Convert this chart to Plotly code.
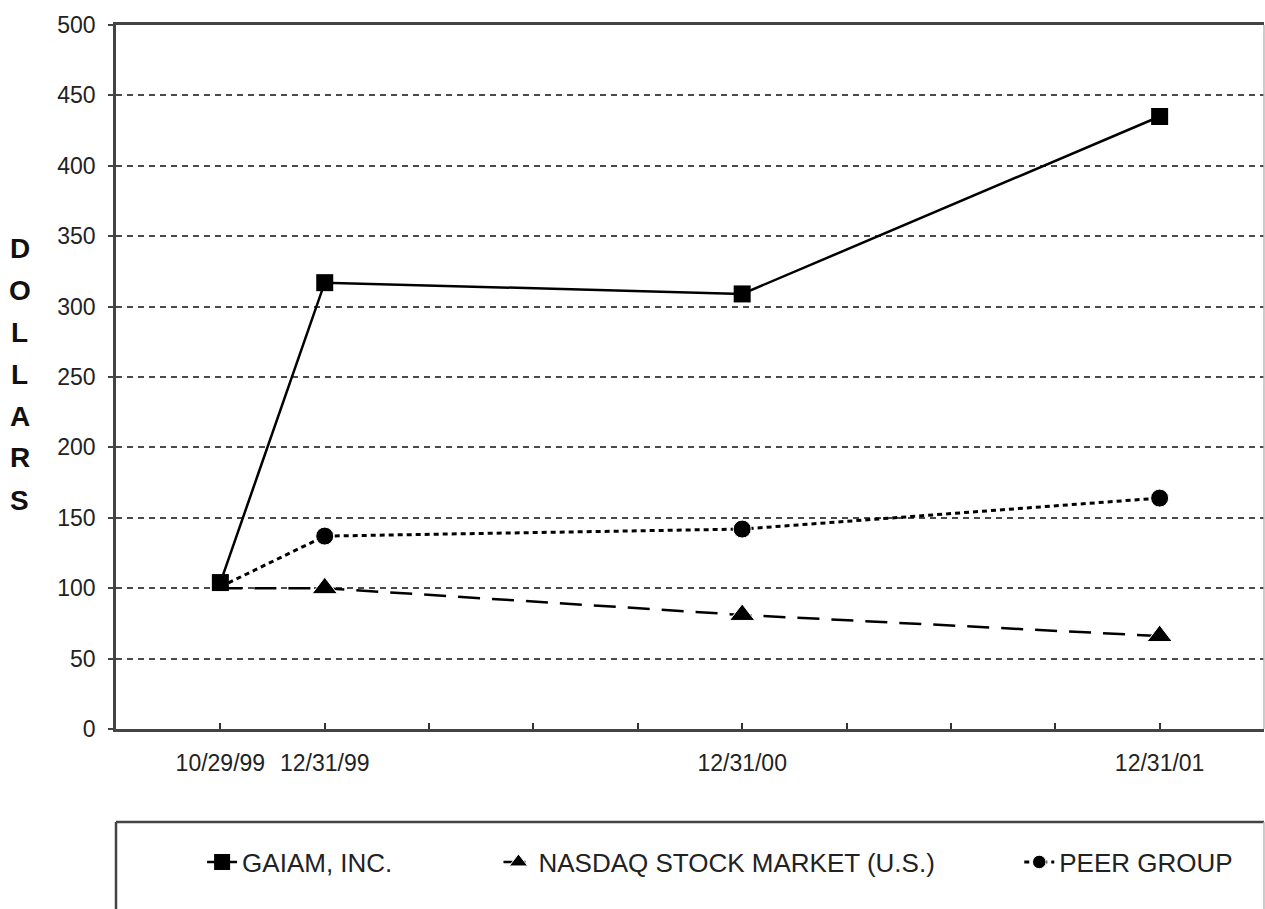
import plotly.graph_objects as go

# ---- data ----
x_labels = ["10/29/99", "12/31/99", "", "", "", "12/31/00", "", "", "", "12/31/01"]
quarter_index = [0, 1, 5, 9]          # position of each observation on the quarterly axis
gaiam = [104, 317, 309, 435]
nasdaq = [100, 100, 81, 66]
peer = [101, 137, 142, 164]
y_ticks = [0, 50, 100, 150, 200, 250, 300, 350, 400, 450, 500]
names = ["GAIAM, INC.", "NASDAQ STOCK MARKET (U.S.)", "PEER GROUP"]

FONT = "Liberation Sans, Arial, Helvetica, sans-serif"
NB = "\u00a0"

fig = go.Figure()

fig.add_trace(go.Scatter(
    x=quarter_index, y=peer, name=names[2], mode="lines+markers", legendrank=3,
    line=dict(color="black", width=3, dash="5px,4px"),
    marker=dict(symbol="circle", size=[0, 18, 18, 18], color="black", opacity=1),
))
fig.add_trace(go.Scatter(
    x=quarter_index, y=nasdaq, name=names[1] + NB * 11, mode="lines+markers", legendrank=2,
    line=dict(color="black", width=2.5, dash="22px,12px"),
    marker=dict(symbol="triangle-up", size=[0, 22, 22, 22], color="black", opacity=1),
))
fig.add_trace(go.Scatter(
    x=quarter_index, y=gaiam, name=names[0] + NB * 14, mode="lines+markers", legendrank=1,
    line=dict(color="black", width=2.5),
    marker=dict(symbol="square", size=17, color="black", opacity=1),
))

fig.update_layout(
    width=1265, height=909,
    margin=dict(l=116, r=1, t=25, b=180),
    paper_bgcolor="white", plot_bgcolor="white",
    font=dict(family=FONT, color="#222"),
    showlegend=True,
    legend=dict(
        orientation="h", x=0.075, xanchor="left", y=-0.189, yanchor="middle",
        font=dict(size=26, color="#222"), traceorder="normal",
        bgcolor="rgba(0,0,0,0)", itemclick=False,
    ),
    xaxis=dict(
        range=[-1, 10], tickmode="array",
        tickvals=list(range(len(x_labels))), ticktext=x_labels,
        ticks="inside", ticklen=6, tickwidth=2, tickcolor="#333",
        showgrid=False, zeroline=False,
        showline=True, linecolor="#444", linewidth=2.5, mirror=True,
        tickfont=dict(size=23, color="#222"), ticklabelstandoff=12,
    ),
    yaxis=dict(
        range=[0, 500], tickmode="array", tickvals=y_ticks,
        ticks="outside", ticklen=5, tickwidth=2, tickcolor="#444",
        showgrid=True, gridcolor="#4a4a4a", gridwidth=2, griddash="6px,5px",
        zeroline=False, showline=True, linecolor="#444", linewidth=2.5,
        tickfont=dict(size=23, color="#222"), ticklabelstandoff=8,
    ),
)

# right frame edge (light)
fig.add_shape(type="line", xref="paper", yref="paper", x0=1, x1=1, y0=0, y1=1,
              line=dict(color="#bbb", width=1.5))

# legend box
fig.add_shape(type="line", xref="paper", yref="paper", x0=0, x1=1, y0=-0.132, y1=-0.132,
              line=dict(color="#444", width=2.5))
fig.add_shape(type="line", xref="paper", yref="paper", x0=0, x1=0, y0=-0.132, y1=-0.3,
              line=dict(color="#444", width=2.5))
fig.add_shape(type="line", xref="paper", yref="paper", x0=1, x1=1, y0=-0.132, y1=-0.3,
              line=dict(color="#bbb", width=1.5))

# vertical stacked "DOLLARS" title
plot_h = 909 - 25 - 180
for i, ch in enumerate("DOLLARS"):
    py = 248 + 42 * i
    fig.add_annotation(text=ch, xref="paper", yref="paper",
                       x=(20 - 116) / 1148, y=(729 - py) / plot_h,
                       xanchor="center", yanchor="middle", showarrow=False,
                       font=dict(size=28, family=FONT, color="#111", weight="bold"))

fig.write_html("out.html")
